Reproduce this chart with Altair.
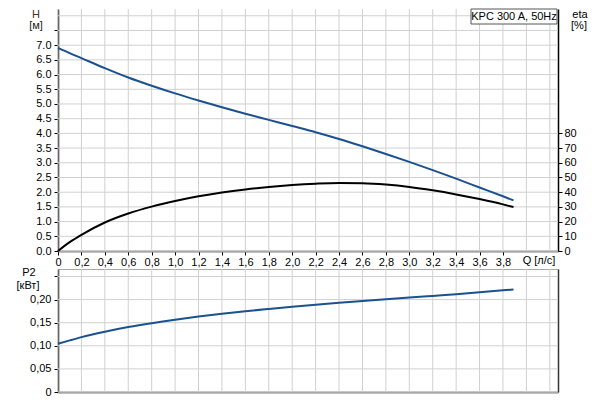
import altair as alt
import pandas as pd

# ---------------- data ----------------
q_flow = [0.0, 0.1, 0.2, 0.4, 0.6, 0.8, 1.0, 1.2, 1.4, 1.6, 1.8, 2.0,
          2.2, 2.4, 2.6, 2.8, 3.0, 3.2, 3.4, 3.6, 3.8, 3.89]
head_m = [6.91, 6.73, 6.56, 6.22, 5.90, 5.62, 5.36, 5.12, 4.89, 4.67, 4.46, 4.25,
          4.04, 3.81, 3.56, 3.30, 3.03, 2.75, 2.46, 2.16, 1.86, 1.72]
eta_pct = [0.0, 6.0, 11.0, 19.4, 25.5, 30.2, 34.0, 37.2, 39.8, 41.9, 43.6, 44.9,
           45.8, 46.3, 46.1, 45.2, 43.6, 41.3, 38.5, 35.3, 31.7, 29.9]
p2_kw = [0.1043, 0.1117, 0.1188, 0.1305, 0.1405, 0.1490, 0.1565, 0.1632, 0.1693, 0.1748, 0.1798, 0.1845,
         0.1889, 0.1930, 0.1969, 0.2007, 0.2043, 0.2080, 0.2118, 0.2158, 0.2200, 0.2220]

q_ticks = [0.0, 0.2, 0.4, 0.6, 0.8, 1.0, 1.2, 1.4, 1.6, 1.8, 2.0,
           2.2, 2.4, 2.6, 2.8, 3.0, 3.2, 3.4, 3.6, 3.8, 4.0, 4.2]
h_ticks = [0.0, 0.5, 1.0, 1.5, 2.0, 2.5, 3.0, 3.5, 4.0, 4.5, 5.0, 5.5, 6.0, 6.5, 7.0, 7.5, 8.0]
eta_ticks = [0, 10, 20, 30, 40, 50, 60, 70, 80]
p2_ticks = [0.0, 0.05, 0.10, 0.15, 0.20, 0.25]

legend_text = ["KPC 300 A, 50Hz"]
h_title = ["H", "[м]"]
eta_title = ["eta", "[%]"]
q_title = ["Q [л/с]"]
p2_title = ["P2", "[кВт]"]

# ---------------- styling ----------------
FONT = "Liberation Sans"
BLUE = "#1a5190"
GRID = "#d0d0d0"
W = 500
TOP_H = 242
BOT_H = 123

df = pd.DataFrame({"Q": q_flow, "H": head_m, "eta": eta_pct, "P2": p2_kw})
qgrid_df = pd.DataFrame({"Q": q_ticks})
hgrid_df = pd.DataFrame({"H": h_ticks})
pgrid_df = pd.DataFrame({"P2": p2_ticks})

q_scale = alt.Scale(domain=[0, 4.27], nice=False, zero=False)
h_scale = alt.Scale(domain=[0, 8.23], nice=False)
eta_scale = alt.Scale(domain=[0, 164.6], nice=False)
p2_scale = alt.Scale(domain=[0, 0.2662], nice=False)

lab = dict(labelFont=FONT, labelFontSize=11, labelColor="#000")

x_top_axis = alt.Axis(
    values=q_ticks, title=None, grid=False,
    domainColor="#808080", domainWidth=2, tickColor="#000", tickSize=4, tickWidth=1,
    tickOpacity={"condition": {"test": "datum.value > 3.9", "value": 0}, "value": 1},
    labelExpr="datum.value > 3.9 ? '' : (datum.value == 0 ? '0' : replace(format(datum.value, '.1f'), '.', ','))",
    labelPadding=1, labelFlush=False, labelOverlap=False, **lab)

h_axis = alt.Axis(
    values=h_ticks, title=None, grid=False,
    domainColor="#000", domainWidth=1.5, tickColor="#000", tickSize=4, tickWidth=1,
    tickOpacity={"condition": {"test": "datum.value > 7.7", "value": 0}, "value": 1},
    labelExpr="datum.value > 7.2 ? '' : format(datum.value, '.1f')",
    labelPadding=3, labelFlush=False, labelOverlap=False, **lab)

eta_axis = alt.Axis(
    values=eta_ticks, title=None, grid=False, orient="right",
    domainColor="#000", domainWidth=1.5, tickColor="#000", tickSize=4, tickWidth=1,
    labelPadding=2, labelFlush=False, labelOverlap=False, format="d", **lab)

grid_x_top = alt.Chart(qgrid_df).mark_rule(color=GRID, strokeWidth=1).encode(
    x=alt.X("Q:Q", scale=q_scale, axis=x_top_axis))
grid_y_top = alt.Chart(hgrid_df).mark_rule(color=GRID, strokeWidth=1).encode(
    y=alt.Y("H:Q", scale=h_scale, axis=None))

h_line = alt.Chart(df).mark_line(color=BLUE, strokeWidth=2, interpolate="monotone").encode(
    x=alt.X("Q:Q", scale=q_scale, axis=x_top_axis),
    y=alt.Y("H:Q", scale=h_scale, axis=h_axis),
)
eta_line = alt.Chart(df).mark_line(color="#000", strokeWidth=2, interpolate="monotone").encode(
    x=alt.X("Q:Q", scale=q_scale, axis=x_top_axis),
    y=alt.Y("eta:Q", scale=eta_scale, axis=eta_axis),
)

legend_df = pd.DataFrame({"t": legend_text})
legend_box = alt.Chart(legend_df).mark_rect(fill="white", stroke="#555", strokeWidth=1).encode(
    x=alt.value(413), x2=alt.value(499), y=alt.value(0), y2=alt.value(15))
legend_lbl = alt.Chart(legend_df).mark_text(font=FONT, fontSize=11, color="#000",
                                             align="center", baseline="middle").encode(
    x=alt.value(456), y=alt.value(8), text="t:N")


def label(txt, x, y, align="center", baseline="top", color="#000"):
    return alt.Chart(pd.DataFrame({"t": [txt]})).mark_text(
        font=FONT, fontSize=11, color=color, align=align, baseline=baseline).encode(
        x=alt.value(x), y=alt.value(y), text="t:N")


anchor = alt.Chart(pd.DataFrame({"t": [""]})).mark_rule(color="white", strokeWidth=1).encode(
    x=alt.value(-49), x2=alt.value(-49), y=alt.value(0), y2=alt.value(4))

top = alt.layer(
    grid_x_top, grid_y_top,
    h_line, eta_line, legend_box, legend_lbl,
    label(h_title[0], -22, 0, color="#4a3020"), label(h_title[1], -22, 11, color="#222"),
    label(eta_title[0], 522, 0), label(eta_title[1], 521, 11),
    label(q_title[0], 481, 252, baseline="middle"),
    anchor,
).resolve_scale(y="independent").properties(width=W, height=TOP_H)

# ---------------- bottom panel ----------------
x_bot_axis = alt.Axis(values=q_ticks, title=None, grid=False,
                      labels=False, ticks=False, domainColor="#808080", domainWidth=2)
x_bot_top = alt.Axis(orient="top", title=None, labels=False, ticks=False, grid=False,
                     domainColor="#a8a8a8", domainWidth=1)
p2_axis = alt.Axis(
    values=p2_ticks, title=None, grid=False,
    domainColor="#000", domainWidth=1.5, tickColor="#000", tickSize=4, tickWidth=1,
    labelExpr="datum.value > 0.22 ? '' : (datum.value == 0 ? '0' : replace(format(datum.value, '.2f'), '.', ','))",
    labelPadding=3, labelFlush=False, labelOverlap=False, **lab)
p2_right = alt.Axis(orient="right", title=None, labels=False, ticks=False, grid=False,
                    domainColor="#333", domainWidth=1.5)

grid_x_bot = alt.Chart(qgrid_df).mark_rule(color=GRID, strokeWidth=1).encode(
    x=alt.X("Q:Q", scale=q_scale, axis=None))
grid_y_bot = alt.Chart(pgrid_df).mark_rule(color=GRID, strokeWidth=1).encode(
    y=alt.Y("P2:Q", scale=p2_scale, axis=None))

p2_line = alt.Chart(df).mark_line(color=BLUE, strokeWidth=2, interpolate="monotone").encode(
    x=alt.X("Q:Q", scale=q_scale, axis=x_bot_axis),
    y=alt.Y("P2:Q", scale=p2_scale, axis=p2_axis),
)
p2_frame = alt.Chart(df).mark_line(opacity=0).encode(
    x=alt.X("Q:Q", scale=q_scale, axis=x_bot_top),
    y=alt.Y("P2:Q", scale=p2_scale, axis=p2_right),
)

bottom = alt.layer(
    grid_x_bot, grid_y_bot,
    p2_line, p2_frame,
    label(p2_title[0], -29, 4, baseline="middle"), label(p2_title[1], -30, 17, baseline="middle"),
).resolve_scale(x="independent", y="independent").properties(width=W, height=BOT_H)

chart = alt.vconcat(top, bottom, spacing=18, bounds="flush").properties(
    padding={"left": 0, "top": 0, "right": 0, "bottom": 0}
).configure(font=FONT).configure_view(stroke=None)

chart.save("out.html", embed_options={"renderer": "svg", "actions": False})
